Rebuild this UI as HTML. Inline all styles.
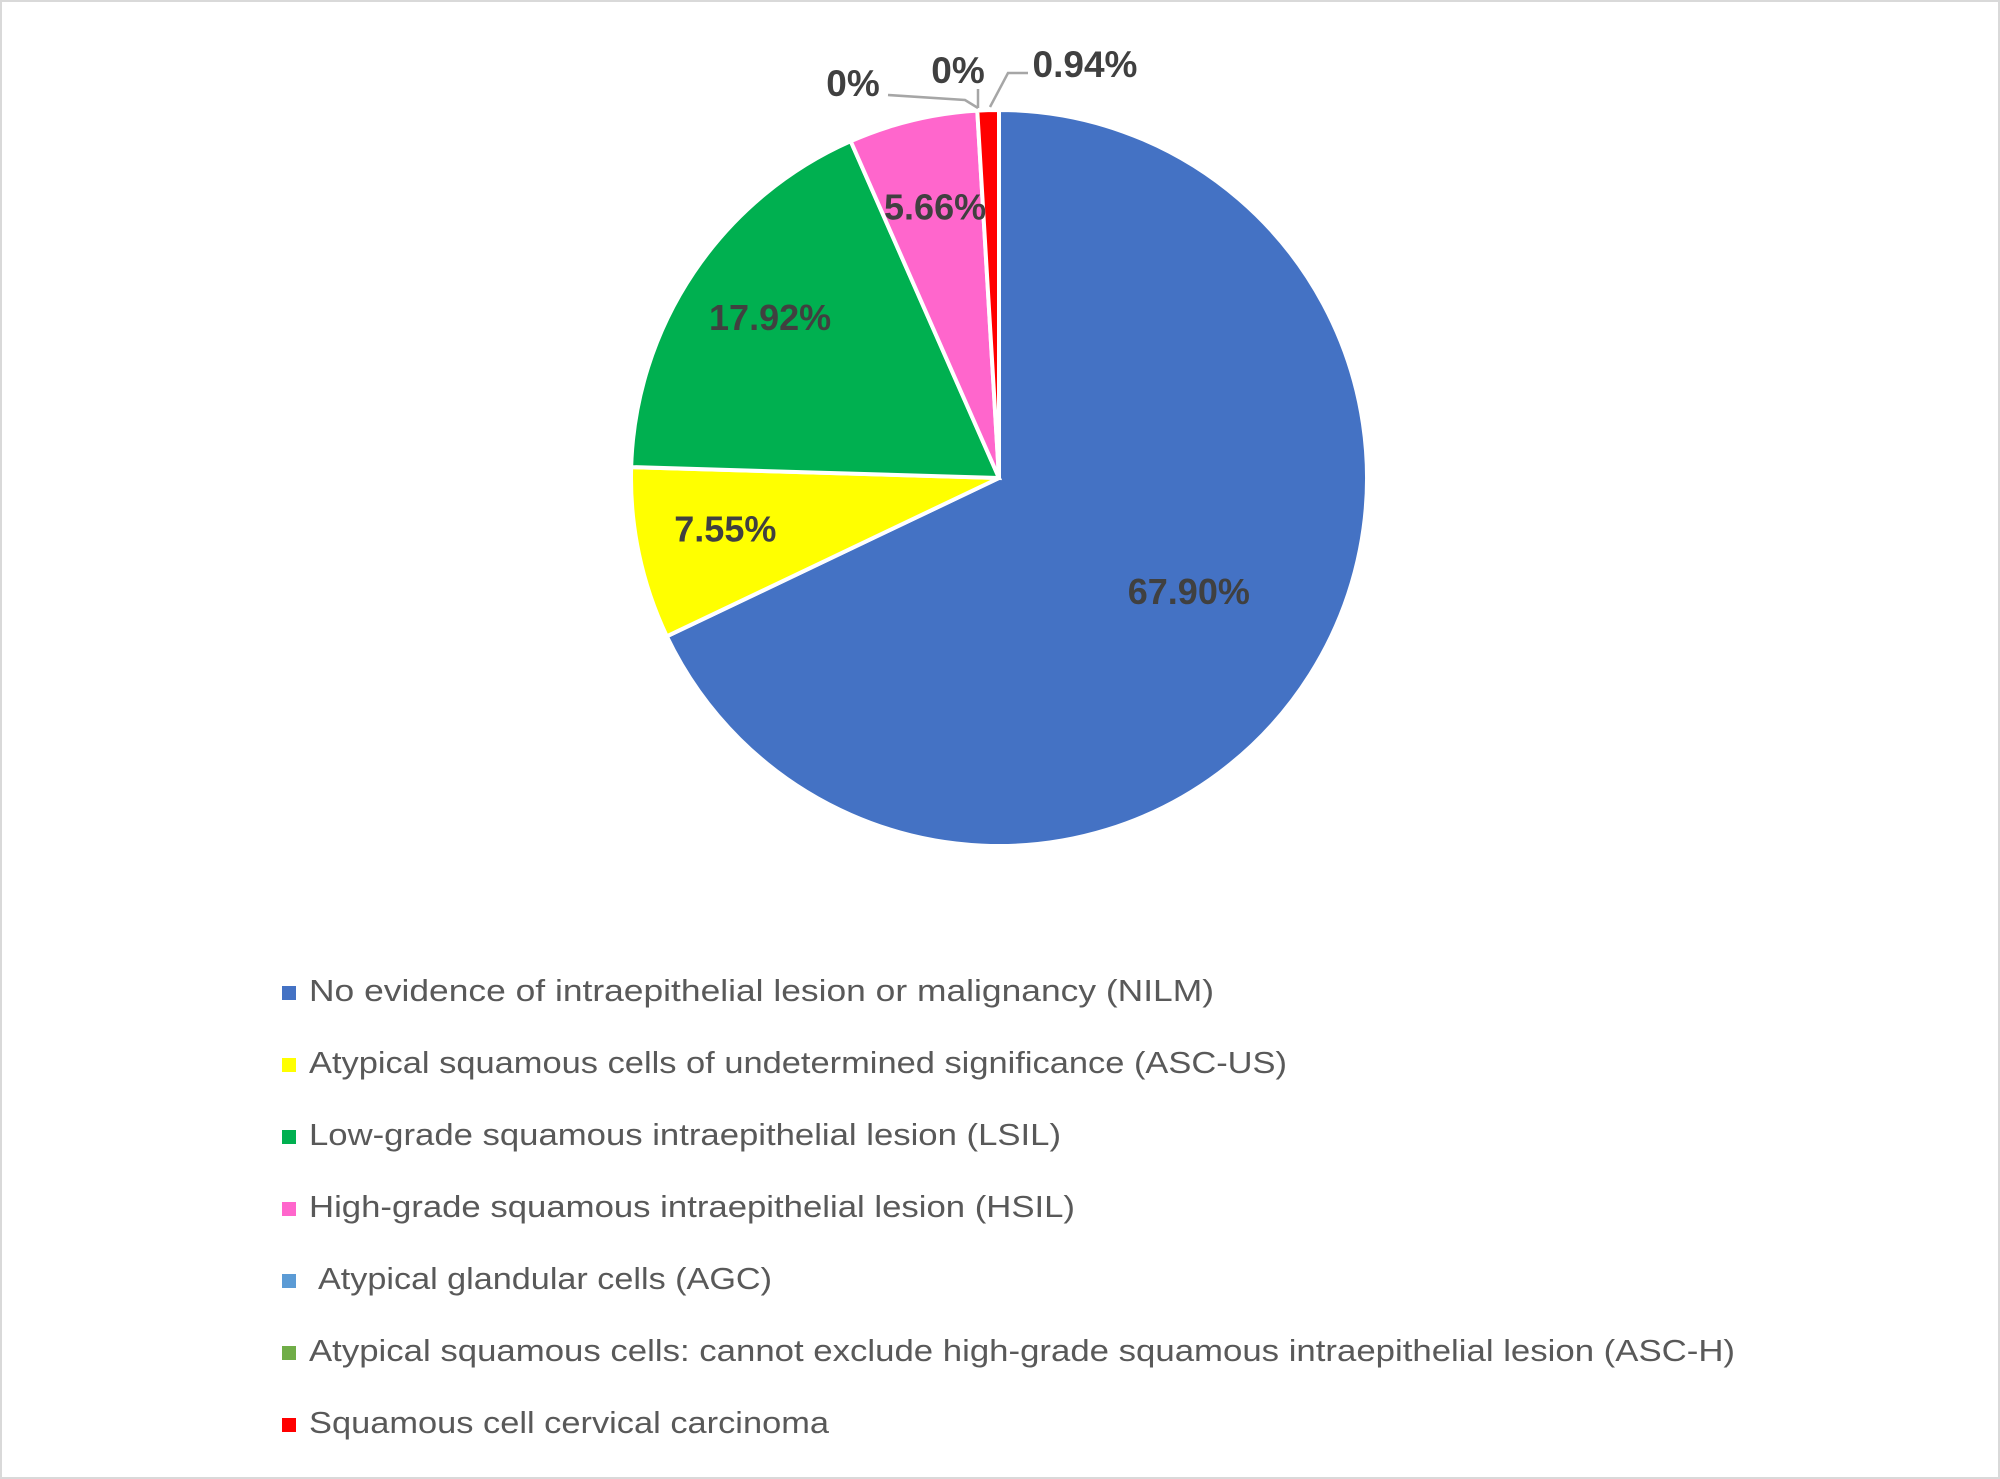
<!DOCTYPE html>
<html><head><meta charset="utf-8"><style>
html,body{margin:0;padding:0;background:#fff}
svg{display:block}
text{font-family:"Liberation Sans",sans-serif}
</style></head><body>
<svg id="chart" width="2000" height="1479" viewBox="0 0 2000 1479">
<rect x="1" y="1" width="1998" height="1477" fill="#fff" stroke="#d9d9d9" stroke-width="2"/>
<g id="slices"></g>
<g id="labels"></g>
<g id="legend"></g>
</svg>
<script>
const categories = ["No evidence of intraepithelial lesion or malignancy (NILM)","Atypical squamous cells of undetermined significance (ASC-US)","Low-grade squamous intraepithelial lesion (LSIL)","High-grade squamous intraepithelial lesion (HSIL)","Atypical glandular cells (AGC)","Atypical squamous cells: cannot exclude high-grade squamous intraepithelial lesion (ASC-H)","Squamous cell cervical carcinoma"];
const values = [67.90, 7.55, 17.92, 5.66, 0, 0, 0.94];
const valueLabels = ["67.90%","7.55%","17.92%","5.66%","0%","0%","0.94%"];
const colors = ["#4472c4","#ffff00","#00b050","#ff66cc","#5b9bd5","#70ad47","#ff0000"];
const NS="http://www.w3.org/2000/svg";
const cx=999, cy=478, r=368;
const total=values.reduce((a,b)=>a+b,0);
function pt(ang,rad){return [cx+rad*Math.sin(ang), cy-rad*Math.cos(ang)];}
const gS=document.getElementById('slices'), gL=document.getElementById('labels'), gG=document.getElementById('legend');
let a0=0;
const mids=[];
values.forEach((v,i)=>{
  const a1=a0+v/total*2*Math.PI;
  mids.push((a0+a1)/2);
  if(v>0){
    const [x0,y0]=pt(a0,r),[x1,y1]=pt(a1,r);
    const p=document.createElementNS(NS,'path');
    p.setAttribute('d',`M${cx},${cy}L${x0},${y0}A${r},${r} 0 ${(a1-a0)>Math.PI?1:0} 1 ${x1},${y1}Z`);
    p.setAttribute('fill',colors[i]);p.setAttribute('stroke','#fff');p.setAttribute('stroke-width','4');
    
    
    gS.appendChild(p);
  }
  a0=a1;
});
const inside=[0,1,2,3];
const lr=[0.61,0.76,0.75,0.74];
inside.forEach((i,k)=>{
  const [x,y]=pt(mids[i],r*lr[k]);
  const t=document.createElementNS(NS,'text');
  t.setAttribute('x',x);t.setAttribute('y',y+6);t.setAttribute('text-anchor','middle');
  t.setAttribute('font-size','36');t.setAttribute('font-weight','bold');t.setAttribute('fill','#404040');
  t.textContent=valueLabels[i];
  
  
  gL.appendChild(t);
});
const outside=[{i:4,x:853,y:96,line:"M888,95 L965,100 L978,108"},{i:5,x:958,y:83,line:"M978,89 L978,108"},{i:6,x:1085,y:77,line:"M1028,73 L1008,73 L990,107"}];
outside.forEach(o=>{
  const l=document.createElementNS(NS,'path');
  l.setAttribute('d',o.line);l.setAttribute('fill','none');l.setAttribute('stroke','#a6a6a6');l.setAttribute('stroke-width','2.5');
  
  
  gL.appendChild(l);
  const t=document.createElementNS(NS,'text');
  t.setAttribute('x',o.x);t.setAttribute('y',o.y);t.setAttribute('text-anchor','middle');
  t.setAttribute('font-size','37');t.setAttribute('font-weight','bold');t.setAttribute('fill','#404040');
  t.textContent=valueLabels[o.i];
  
  
  gL.appendChild(t);
});
const widths=[905,978,752,766,454,1426,520];
const startX=[309,309,309,309,318,309,309];
categories.forEach((c,i)=>{
  const by=1001+i*72;
  const m=document.createElementNS(NS,'rect');
  m.setAttribute('x',282);m.setAttribute('y',by-15);m.setAttribute('width',14);m.setAttribute('height',14);m.setAttribute('fill',colors[i]);
  
  
  gG.appendChild(m);
  const t=document.createElementNS(NS,'text');
  t.setAttribute('x',startX[i]);t.setAttribute('y',by);t.setAttribute('font-size','31');t.setAttribute('fill','#595959');
  t.setAttribute('textLength',widths[i]);t.setAttribute('lengthAdjust','spacingAndGlyphs');
  t.textContent=c;
  
  
  gG.appendChild(t);
});
</script>
</body></html>
